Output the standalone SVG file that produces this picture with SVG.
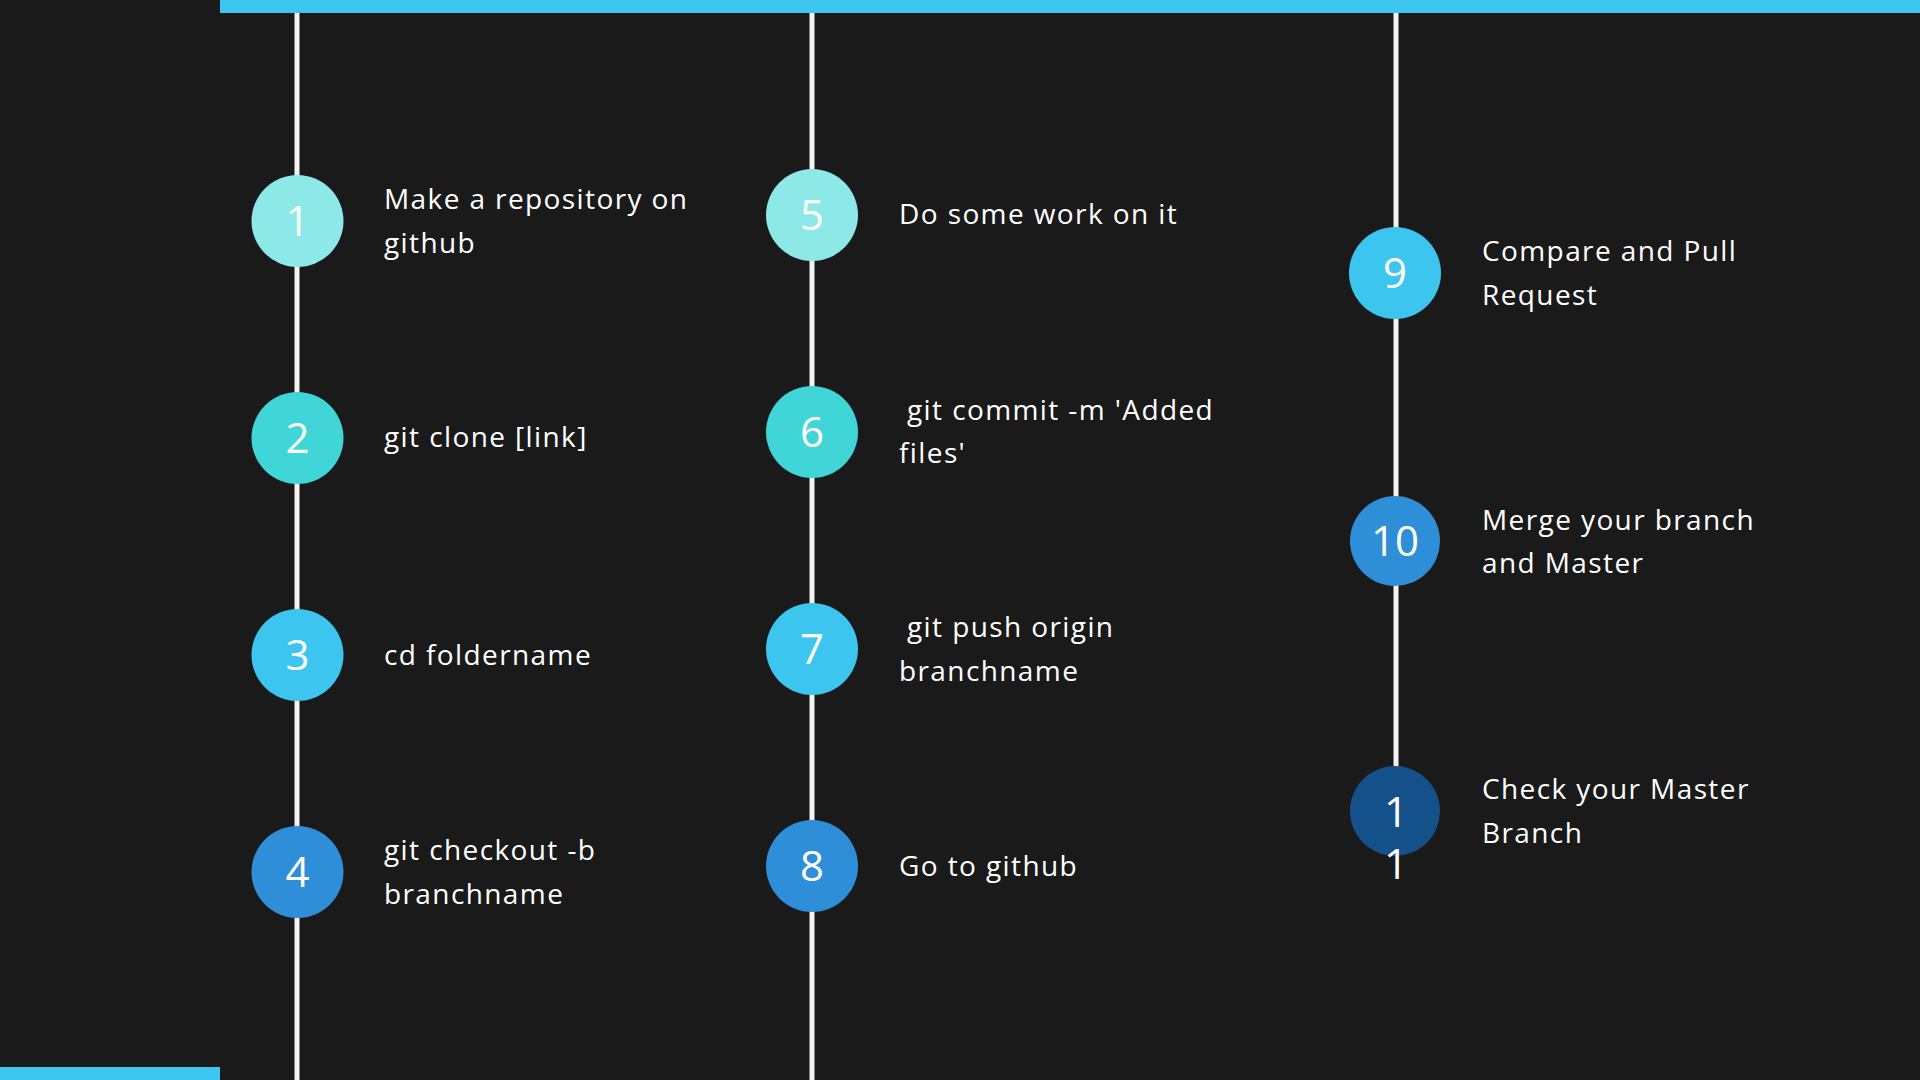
<svg xmlns="http://www.w3.org/2000/svg" width="1920" height="1080" viewBox="0 0 1920 1080">
<style>
.bg{fill:#1a1a1a}
.bar{fill:#3ac6ee}
.rail{stroke:#f2f2f2;stroke-width:5;fill:none}
.num{font-family:"Open Sans",Lato,sans-serif;font-size:42px;fill:#ffffff;text-anchor:middle}
.lbl{font-family:"Open Sans",Lato,sans-serif;font-size:28px;fill:#ffffff;letter-spacing:1.4px}
.c1{fill:#8de8e8}.c2{fill:#40d5d6}.c3{fill:#3cc5ee}.c4{fill:#2e8fd8}.c5{fill:#14508a}
</style>
<rect class="bg" x="0" y="0" width="1920" height="1080"/>
<g id="connectors">
<line class="rail" x1="297" y1="0" x2="297" y2="1080"/>
<line class="rail" x1="812" y1="0" x2="812" y2="1080"/>
<line class="rail" x1="1396" y1="0" x2="1396" y2="770"/>
</g>
<rect class="bar" x="220" y="0" width="1700" height="13"/>
<rect class="bar" x="0" y="1067" width="220" height="13"/>
<g id="step1"><circle class="c1" cx="297.5" cy="221" r="46"/><text class="num" x="297.5" y="236">1</text><text class="lbl" x="384" y="209">Make a repository on</text><text class="lbl" x="384" y="253">github</text></g>
<g id="step2"><circle class="c2" cx="297.5" cy="438" r="46"/><text class="num" x="297.5" y="453">2</text><text class="lbl" x="384" y="447">git clone [link]</text></g>
<g id="step3"><circle class="c3" cx="297.5" cy="655" r="46"/><text class="num" x="297.5" y="670">3</text><text class="lbl" x="384" y="665">cd foldername</text></g>
<g id="step4"><circle class="c4" cx="297.5" cy="872" r="46"/><text class="num" x="297.5" y="887">4</text><text class="lbl" x="384" y="860">git checkout -b</text><text class="lbl" x="384" y="904">branchname</text></g>
<g id="step5"><circle class="c1" cx="812" cy="215" r="46"/><text class="num" x="812" y="230">5</text><text class="lbl" x="899" y="224">Do some work on it</text></g>
<g id="step6"><circle class="c2" cx="812" cy="432" r="46"/><text class="num" x="812" y="447">6</text><text class="lbl" x="907" y="420">git commit -m 'Added</text><text class="lbl" x="899" y="463">files'</text></g>
<g id="step7"><circle class="c3" cx="812" cy="649" r="46"/><text class="num" x="812" y="664">7</text><text class="lbl" x="907" y="637">git push origin</text><text class="lbl" x="899" y="681">branchname</text></g>
<g id="step8"><circle class="c4" cx="812" cy="866" r="46"/><text class="num" x="812" y="881">8</text><text class="lbl" x="899" y="876">Go to github</text></g>
<g id="step9"><circle class="c3" cx="1395" cy="273" r="46"/><text class="num" x="1395" y="288">9</text><text class="lbl" x="1482" y="261">Compare and Pull</text><text class="lbl" x="1482" y="305">Request</text></g>
<g id="step10"><circle class="c4" cx="1395" cy="541" r="45"/><text class="num" x="1395" y="556">10</text><text class="lbl" x="1482" y="530">Merge your branch</text><text class="lbl" x="1482" y="573">and Master</text></g>
<g id="step11"><circle class="c5" cx="1395" cy="811" r="45"/><text class="num" x="1396" y="827">1</text><text class="num" x="1396" y="879">1</text><text class="lbl" x="1482" y="799">Check your Master</text><text class="lbl" x="1482" y="843">Branch</text></g>
</svg>
